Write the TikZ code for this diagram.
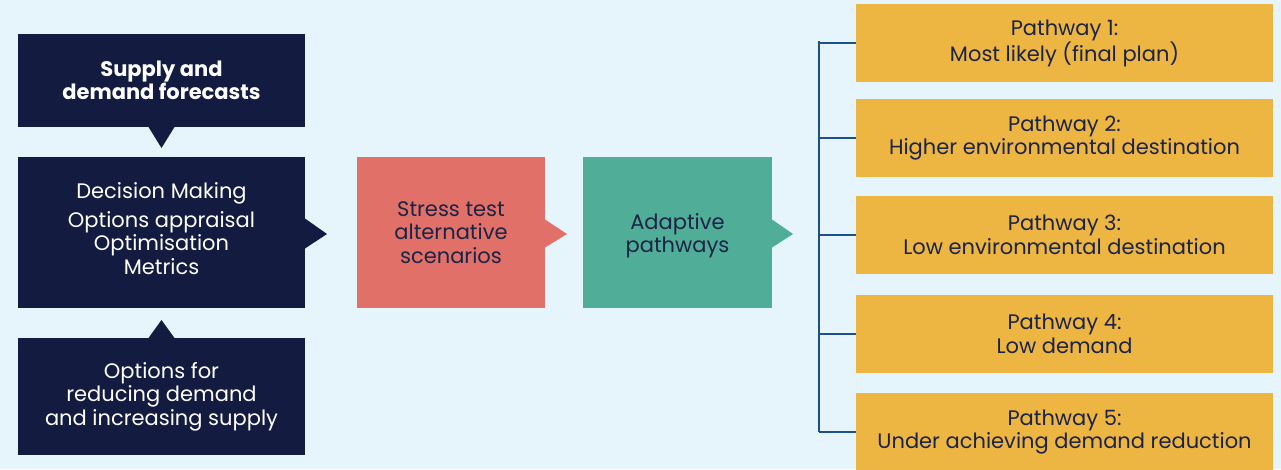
\documentclass[tikz,border=0pt]{standalone}
\usepackage{fontspec}
\setmainfont{Poppins}
\usetikzlibrary{calc}
\definecolor{bgblue}{HTML}{E6F4FC}
\definecolor{navy}{HTML}{131C40}
\definecolor{inkdark}{HTML}{1C2446}
\definecolor{coral}{HTML}{E07068}
\definecolor{teal}{HTML}{50AD98}
\definecolor{amber}{HTML}{EDB542}
\definecolor{linkblue}{HTML}{1F4E8C}
\tikzset{
  panel/.style={rectangle, inner sep=0pt, outer sep=0pt, align=center,
    font=\fontsize{21}{23.5}\selectfont},
  navybox/.style={panel, fill=navy, text=white},
  coralbox/.style={panel, fill=coral, text=inkdark},
  tealbox/.style={panel, fill=teal, text=inkdark},
  pathbox/.style={panel, fill=amber, text=inkdark,
    minimum width=417pt, minimum height=78pt},
  caption/.style={panel},
  bracket/.style={draw=linkblue, line width=1.6pt}
}
\begin{document}
\begin{tikzpicture}[x=1pt,y=-1pt]
  % canvas
  \fill[bgblue] (0,0) rectangle (1281,469);
  \useasboundingbox (0,0) rectangle (1281,469);

  % left column
  \node[navybox, minimum width=287pt, minimum height=93pt] (fc) at (161.5,80.5)
    {\bfseries Supply and\\\bfseries demand forecasts};
  \node[navybox, minimum width=287pt, minimum height=151pt] (dm) at (161.5,232.5) {};
  \node[caption, text=white] (dmtext) at ($(dm.center)+(0,-4)$)
    {Decision Making\\[5pt]Options appraisal\\Optimisation\\Metrics};
  \node[navybox, minimum width=287pt, minimum height=117pt] (op) at (161.5,396.5)
    {Options for\\reducing demand\\and increasing supply};

  % middle stages
  \node[coralbox, minimum width=188pt, minimum height=151pt] (st) at (451,232.5)
    {Stress test\\alternative\\scenarios};
  \node[tealbox, minimum width=189pt, minimum height=151pt] (ap) at (677.5,232.5) {};
  \node[caption, text=inkdark] (aptext) at ($(ap.center)+(0,3)$) {Adaptive\\pathways};

  % pointer tabs
  \fill[navy] ($(fc.south)+(-13,0)$) -- ($(fc.south)+(13,0)$) -- ($(fc.south)+(0,21)$) -- cycle;
  \fill[navy] ($(op.north)+(-13,0)$) -- ($(op.north)+(13,0)$) -- ($(op.north)+(0,-18)$) -- cycle;
  \fill[navy] ($(dm.east)+(0,-14)$) -- ($(dm.east)+(0,16)$) -- ($(dm.east)+(22,1.5)$) -- cycle;
  \fill[coral] ($(st.east)+(0,-13)$) -- ($(st.east)+(0,15)$) -- ($(st.east)+(22,1.5)$) -- cycle;
  \fill[teal] ($(ap.east)+(0,-13)$) -- ($(ap.east)+(0,15)$) -- ($(ap.east)+(21,1.5)$) -- cycle;

  % pathway boxes
  \node[pathbox] (p1) at (1064.5,43)  {Pathway 1:\\Most likely (final plan)};
  \node[pathbox] (p2) at (1064.5,138) {Pathway 2:\\Higher environmental destination};
  \node[pathbox] (p3) at (1064.5,235) {Pathway 3:\\Low environmental destination};
  \node[pathbox] (p4) at (1064.5,334) {Pathway 4:\\Low demand};
  \node[pathbox] (p5) at (1064.5,432) {Pathway 5:\\Under achieving demand reduction};

  % bracket linking the pathways
  \coordinate (btop) at (819,41);
  \coordinate (bbot) at (819,432);
  \draw[bracket] (btop) -- (bbot);
  \foreach \p in {p1,p2,p3,p4,p5}
    \draw[bracket] (\p.west -| btop) -- (\p.west);
\end{tikzpicture}
\end{document}
